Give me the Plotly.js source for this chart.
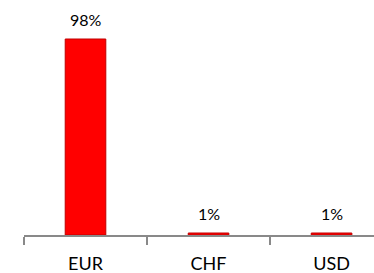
<!DOCTYPE html>
<html>
<head>
<meta charset="utf-8">
<script src="https://cdn.plot.ly/plotly-3.0.1.min.js"></script>
<style>html,body{margin:0;padding:0;background:#fff}#chart{width:374px;height:273px}</style>
</head>
<body>
<div id="chart"></div>
<script>
const categories = ["EUR", "CHF", "USD"];
const shares = [98, 1, 1];
const labels = ["98%", "1%", "1%"];

const trace = {
  type: "bar",
  x: categories,
  y: shares,
  marker: {color: "#ff0000", line: {color: "#c00000", width: 1}},
  width: 0.33,
  hoverinfo: "none"
};

const annotations = categories.map((c, i) => ({
  x: c, y: shares[i], xref: "x", yref: "y",
  text: labels[i], showarrow: false,
  yanchor: "bottom", yshift: 8,
  font: {family: "Lato, sans-serif", size: 16, color: "#000"}
}));

const layout = {
  width: 374, height: 273,
  margin: {l: 24, r: 0, t: 0, b: 38},
  paper_bgcolor: "#fff", plot_bgcolor: "#fff",
  showlegend: false,
  annotations: annotations,
  xaxis: {
    type: "category",
    range: [-0.5, 2.345],
    showline: true, linecolor: "#898989", linewidth: 1.5,
    ticks: "outside", tickson: "boundaries", ticklen: 8, tickcolor: "#898989", tickwidth: 1.5,
    showgrid: false, zeroline: false,
    tickfont: {family: "Lato, sans-serif", size: 18, color: "#000"},
    ticklabelstandoff: 12
  },
  yaxis: {
    range: [0, 117.5],
    visible: false, showgrid: false, zeroline: false
  }
};

Plotly.newPlot("chart", [trace], layout, {staticPlot: true, displayModeBar: false});
</script>
</body>
</html>
